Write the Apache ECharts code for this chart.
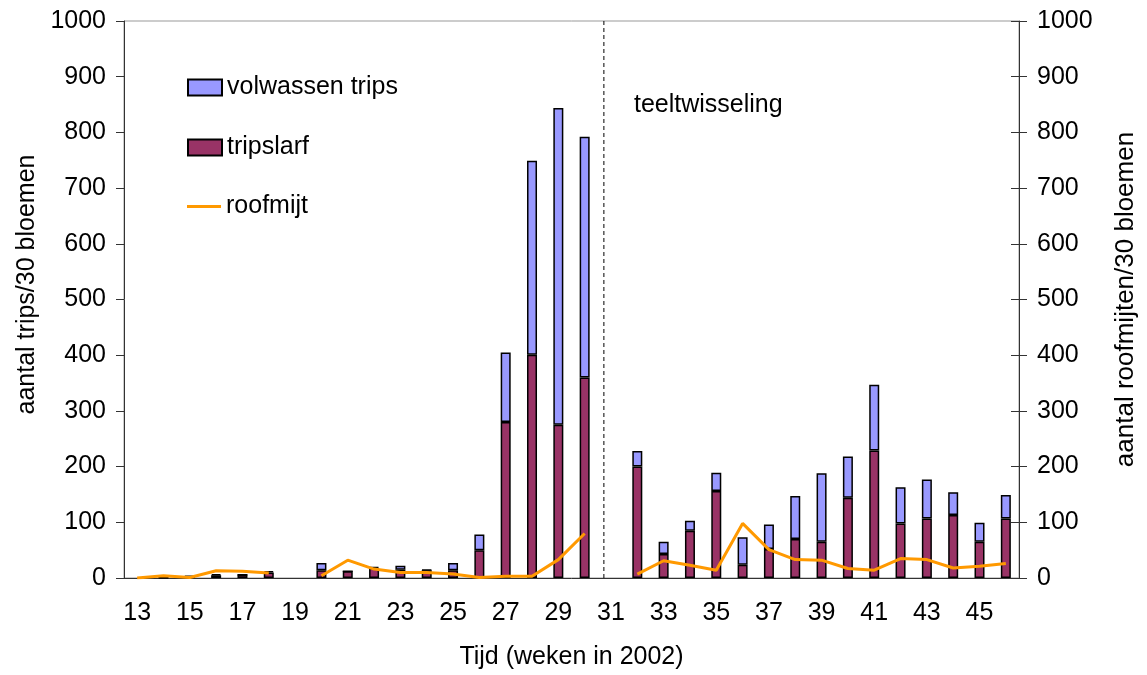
<!DOCTYPE html>
<html>
<head>
<meta charset="utf-8">
<script src="https://cdn.jsdelivr.net/npm/echarts@6/dist/echarts.min.js"></script>
<style>
html,body{margin:0;padding:0;background:#fff;}
#chart{width:1147px;height:675px;}
</style>
</head>
<body>
<div id="chart"></div>
<script>
const weeks = ['13','14','15','16','17','18','19','20','21','22','23','24','25','26','27','28','29','30','31','32','33','34','35','36','37','38','39','40','41','42','43','44','45','46'];
// tripslarf (larvae), bottom of stack
const larvae = [null,1,3,5,6,10,null,14,12,18,15,14,14,50,280,401,275,360,null,200,43,85,156,24,52,70,65,144,229,98,107,113,65,107];
// volwassen trips (adults), top of stack
const adults = [null,0,0,2,0,2,null,13,0,2,7,1,13,28,125,348,569,432,null,28,22,18,33,49,44,77,123,74,118,65,70,41,34,42];
// roofmijt (predatory mites), right axis
const mites = [0,4,1,13,12,9,null,4,32,16,10,10,7,1,3,3,33,80,null,7,31,23,14,98,51,33,32,17,14,35,33,18,21,26];
const changeWeek = 30.73;
const yTicks = [0, 1000, 100];

const FONT = 'Liberation Sans';
const FS = 25;
const chart = echarts.init(document.getElementById('chart'), null, {renderer: 'canvas'});

const legendBase = {
  orient: 'vertical', padding: 0, itemWidth: 34, itemHeight: 16,
  textStyle: {fontFamily: FONT, fontSize: FS, color: '#000'},
  selectedMode: false
};
const plain = v => String(v);

chart.setOption({
  animation: false,
  backgroundColor: '#fff',
  grid: {left: 124, right: 124, top: 21, bottom: 97, show: true, borderColor: '#999', borderWidth: 1},
  legend: [
    Object.assign({}, legendBase, {left: 187, top: 75, data: [{name: 'volwassen trips', icon: 'rect'}]}),
    Object.assign({}, legendBase, {left: 187, top: 135, data: [{name: 'tripslarf', icon: 'rect'}]}),
    Object.assign({}, legendBase, {left: 187, top: 194, itemHeight: 3, data: [{name: 'roofmijt', icon: 'rect'}]})
  ],
  graphic: [{
    type: 'text', left: 634, top: 93,
    style: {text: 'teeltwisseling', font: FS + 'px "Liberation Sans"', fill: '#000'}
  }],
  xAxis: [{
    type: 'category', data: weeks,
    name: 'Tijd (weken in 2002)', nameLocation: 'middle', nameGap: 67,
    nameTextStyle: {fontFamily: FONT, fontSize: FS, color: '#000'},
    axisLine: {lineStyle: {color: '#333', width: 1}},
    axisTick: {interval: 0, alignWithLabel: false, length: 8, lineStyle: {color: '#333'}},
    axisLabel: {interval: 1, margin: 23, fontFamily: FONT, fontSize: FS, color: '#000'},
    splitLine: {show: false}
  }, {
    type: 'value', min: 12.5, max: 46.5, show: false
  }],
  yAxis: [{
    type: 'value', min: yTicks[0], max: yTicks[1], interval: yTicks[2], position: 'left',
    name: 'aantal trips/30 bloemen', nameLocation: 'middle', nameRotate: 90, nameGap: 80,
    nameTextStyle: {fontFamily: FONT, fontSize: FS, color: '#000', padding: [0, 0, 0, 30]},
    axisLine: {show: true, lineStyle: {color: '#333', width: 1}},
    axisTick: {show: true, length: 8, lineStyle: {color: '#333'}},
    axisLabel: {margin: 18, fontFamily: FONT, fontSize: FS, color: '#000', formatter: plain},
    splitLine: {show: false}
  }, {
    type: 'value', min: yTicks[0], max: yTicks[1], interval: yTicks[2], position: 'right',
    name: 'aantal roofmijten/30 bloemen', nameLocation: 'middle', nameRotate: 90, nameGap: 94,
    nameTextStyle: {fontFamily: FONT, fontSize: 26, color: '#000'},
    axisLine: {show: true, lineStyle: {color: '#333', width: 1}},
    axisTick: {show: true, length: 8, lineStyle: {color: '#333'}},
    axisLabel: {margin: 18, fontFamily: FONT, fontSize: FS, color: '#000', formatter: plain},
    splitLine: {show: false}
  }, {
    type: 'value', min: yTicks[0], max: yTicks[1], interval: yTicks[2], position: 'right',
    axisLine: {show: false},
    axisTick: {show: true, inside: true, length: 8, lineStyle: {color: '#333'}},
    axisLabel: {show: false},
    splitLine: {show: false}
  }],
  series: [{
    name: 'tripslarf', type: 'bar', stack: 'trips', data: larvae,
    barWidth: 10,
    itemStyle: {color: '#993366', borderColor: '#000', borderWidth: 1.5}
  }, {
    name: 'volwassen trips', type: 'bar', stack: 'trips', data: adults,
    barWidth: 10,
    itemStyle: {color: '#9999FF', borderColor: '#000', borderWidth: 1.5}
  }, {
    name: 'roofmijt', type: 'line', yAxisIndex: 1, data: mites,
    showSymbol: false, symbol: 'none', connectNulls: false,
    lineStyle: {color: '#FF9900', width: 3},
    itemStyle: {color: '#FF9900'}
  }, {
    name: 'teeltwisseling-lijn', type: 'line', xAxisIndex: 1, yAxisIndex: 0,
    data: [[changeWeek, yTicks[0]], [changeWeek, yTicks[1]]],
    showSymbol: false, symbol: 'none', silent: true,
    lineStyle: {color: '#000', width: 1, type: [4, 3]}
  }]
});
</script>
</body>
</html>
